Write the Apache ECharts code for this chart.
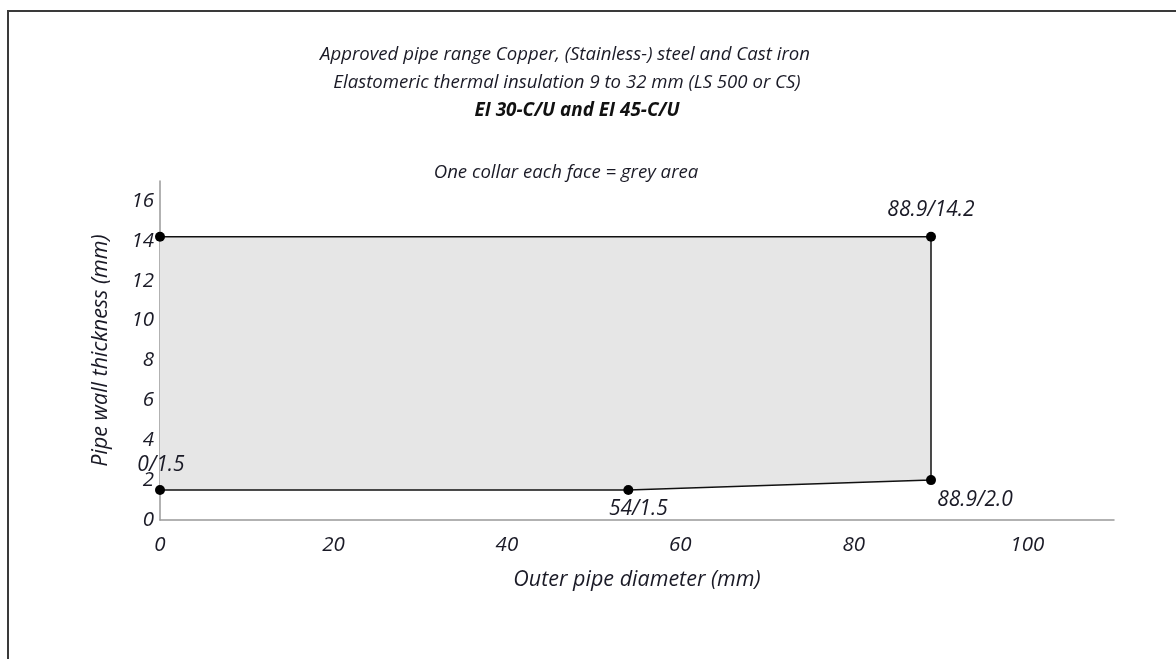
<!DOCTYPE html>
<html>
<head>
<meta charset="utf-8">
<script src="https://cdn.jsdelivr.net/npm/echarts@6/dist/echarts.min.js"></script>
<style>
html,body{margin:0;padding:0;background:#fff;}
#chart{width:1176px;height:659px;}
</style>
</head>
<body>
<div id="chart"></div>
<script>
const titleLines = [
  'Approved pipe range Copper, (Stainless-) steel and Cast iron',
  'Elastomeric thermal insulation 9 to 32 mm (LS 500 or CS)',
  'EI 30-C/U and EI 45-C/U',
  'One collar each face = grey area'
];
const xAxisName = 'Outer pipe diameter (mm)';
const yAxisName = 'Pipe wall thickness (mm)';
const outerDiameter = [0, 88.9, 88.9, 54, 0];
const wallThickness = [14.2, 14.2, 2.0, 1.5, 1.5];
const pointLabels = ['', '88.9/14.2', '88.9/2.0', '54/1.5', '0/1.5'];

const FONT = '"Open Sans"';
const TXT = '#1a1a26';

const labelCfg = [
  {show:false},
  {show:true, position:'top', distance:11},
  {show:true, position:'bottom', distance:4, offset:[44,0]},
  {show:true, position:'bottom', distance:3, offset:[10,0]},
  {show:true, position:'top', distance:10, offset:[1,0]}
];

const pts = outerDiameter.map((x,i)=>[x, wallThickness[i]]);
const scatterData = pts.map((p,i)=>({value:p, name:pointLabels[i], label:labelCfg[i]}));

const chart = echarts.init(document.getElementById('chart'));
const titleFont = 'italic 18.6px '+FONT;
const option = {
  backgroundColor:'#fff',
  animation:false,
  grid:{left:160, right:62, top:181, bottom:139},
  graphic:[
    {type:'rect', shape:{x:8, y:11, width:1200, height:700}, style:{fill:'none', stroke:'#3a3a3a', lineWidth:2}, silent:true},
    {type:'text', x:565, y:55, style:{text:titleLines[0], font:titleFont, fill:TXT, textAlign:'center', textVerticalAlign:'middle'}},
    {type:'text', x:567, y:83, style:{text:titleLines[1], font:titleFont, fill:TXT, textAlign:'center', textVerticalAlign:'middle'}},
    {type:'text', x:577, y:111, style:{text:titleLines[2], font:'italic bold 18.9px '+FONT, fill:'#111', textAlign:'center', textVerticalAlign:'middle'}},
    {type:'text', x:566, y:173, style:{text:titleLines[3], font:titleFont, fill:TXT, textAlign:'center', textVerticalAlign:'middle'}}
  ],
  xAxis:{
    type:'value', min:0, max:110, interval:20,
    name:xAxisName, nameLocation:'middle', nameGap:49,
    nameTextStyle:{fontFamily:FONT, fontStyle:'italic', fontSize:21.5, color:TXT},
    axisLine:{show:true, onZero:false, lineStyle:{color:'#999', width:1.5}},
    axisTick:{show:false},
    splitLine:{show:false},
    axisLabel:{showMaxLabel:false, margin:15, fontFamily:FONT, fontStyle:'italic', fontSize:20.5, color:TXT}
  },
  yAxis:{
    type:'value', min:0, max:17, interval:2,
    name:yAxisName, nameLocation:'middle', nameGap:48, nameRotate:90,
    nameTextStyle:{fontFamily:FONT, fontStyle:'italic', fontSize:21.5, color:TXT},
    axisLine:{show:true, onZero:false, lineStyle:{color:'#999', width:1.5}},
    axisTick:{show:false},
    splitLine:{show:false},
    axisLabel:{showMaxLabel:false, margin:6, fontFamily:FONT, fontStyle:'italic', fontSize:20.5, color:TXT}
  },
  series:[
    {
      type:'custom',
      data:pts,
      z:1,
      renderItem:function(params, api){
        if(params.dataIndex!==0) return null;
        const poly = pts.map(p=>api.coord(p));
        return {type:'polygon', shape:{points:poly}, style:{fill:'#e6e6e6', stroke:'none'}};
      },
      silent:true
    },
    {
      type:'line',
      data:pts,
      z:3,
      symbol:'none',
      lineStyle:{color:'#111', width:1.5},
      silent:true
    },
    {
      type:'scatter',
      data:scatterData,
      z:4,
      symbolSize:10,
      itemStyle:{color:'#000', opacity:1},
      label:{formatter:'{b}', fontFamily:FONT, fontStyle:'italic', fontSize:21, color:TXT, opacity:1},
      silent:true
    }
  ]
};
chart.setOption(option);
</script>
</body>
</html>
